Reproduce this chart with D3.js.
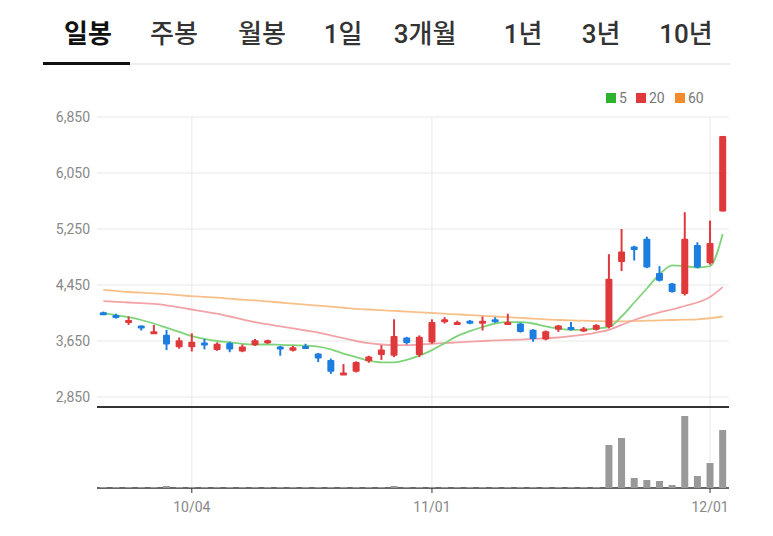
<!DOCTYPE html><html><head><meta charset="utf-8">
<script src="https://cdn.jsdelivr.net/npm/d3@7"></script>
<style>body{margin:0;background:#fff;font-family:Roboto,"Noto Sans CJK KR",sans-serif}</style></head><body>
<svg id="c" width="773" height="536"></svg>
<script>
const tabs=["일봉","주봉","월봉","1일","3개월","1년","3년","10년"];
const tabX=[88,174,262,343,425,523,601,686];
const open=[4060,4020,3920,3870,3760,3740,3560,3560,3630,3520,3620,3500,3590,3640,3570,3510,3580,3470,3380,3170,3210,3360,3450,3440,3700,3450,3630,3920,3900,3940,3910,3960,3890,3900,3810,3670,3810,3850,3810,3810,3850,4780,5000,5110,4620,4470,4320,5020,4760,5500];
const close=[4030,3980,3950,3840,3790,3600,3660,3640,3590,3610,3530,3570,3660,3660,3530,3560,3570,3400,3210,3200,3350,3430,3530,3720,3620,3710,3920,3960,3920,3930,3940,3920,3920,3780,3680,3790,3870,3810,3830,3880,4540,4930,4950,4700,4510,4350,5110,4700,5050,6580];
const high=[4070,4040,4000,3870,3880,3810,3700,3760,3680,3630,3640,3600,3680,3670,3580,3580,3610,3480,3400,3320,3360,3440,3590,3960,3710,3730,3960,3990,3940,3950,4000,3990,4040,3910,3820,3800,3880,3920,3850,3890,4890,5250,5010,5140,4720,4480,5490,5060,5370,6580];
const low=[4020,3970,3880,3800,3760,3520,3540,3500,3530,3510,3490,3490,3580,3610,3440,3500,3560,3350,3180,3170,3200,3340,3380,3420,3600,3420,3610,3900,3890,3890,3800,3910,3880,3770,3640,3660,3780,3800,3780,3800,3830,4650,4800,4690,4500,4340,4300,4690,4740,5500];
const ma5=[4050,4020,3990,3950,3900,3840,3780,3720,3680,3650,3630,3610,3600,3600,3595,3590,3585,3570,3530,3470,3420,3370,3345,3345,3380,3440,3520,3620,3720,3790,3850,3900,3920,3920,3900,3860,3830,3810,3810,3830,3850,4000,4200,4400,4600,4730,4720,4700,4720,5180];
const ma20=[4220,4210,4200,4190,4180,4160,4130,4100,4070,4040,4000,3960,3920,3890,3860,3830,3800,3770,3730,3690,3650,3620,3600,3590,3590,3600,3610,3620,3630,3640,3650,3660,3665,3670,3680,3690,3700,3720,3740,3770,3810,3880,3950,4010,4060,4100,4150,4200,4280,4420];
const ma60=[4380,4365,4350,4340,4330,4320,4305,4290,4280,4270,4255,4240,4230,4215,4200,4185,4170,4155,4140,4125,4110,4100,4090,4080,4070,4060,4050,4040,4030,4020,4010,4000,3990,3980,3970,3960,3950,3945,3940,3935,3930,3930,3935,3940,3945,3950,3955,3960,3975,4000];
const volume=[1,1,1,1,1,2,1,1,1,1,1,1,1,1,1,1,1,1,1,1,1,1,1,2,1,1,1,1,1,1,1,1,1,1,1,1,1,1,1,1,43,50,10,8,7,3,72,12,25,58];
const yTicks=[2850,3650,4450,5250,6050,6850];
const dateTicks=[[7,"10/04"],[26,"11/01"],[48,"12/01"]];

const svg=d3.select("#c");
const red="#e0393c",blue="#1e7ee0";
svg.selectAll(".tab").data(tabs).join("text").attr("x",(d,i)=>tabX[i]).attr("y",43)
 .attr("text-anchor","middle").attr("font-size",26).attr("font-weight",(d,i)=>i==0?700:500)
 .attr("fill",(d,i)=>i==0?"#111":"#333").text(d=>d);
svg.append("line").attr("x1",43).attr("x2",730).attr("y1",64).attr("y2",64).attr("stroke","#ddd");
svg.append("rect").attr("x",43).attr("y",62).attr("width",87).attr("height",3).attr("fill","#111");

const x=d3.scaleLinear().domain([-0.5,49.5]).range([97,729]);
const y=d3.scaleLinear().domain([2850,6850]).range([397,117]);
const yv=d3.scaleLinear().domain([0,100]).range([488,388]);
svg.selectAll(".g").data(yTicks).join("line").attr("x1",97).attr("x2",729).attr("y1",d=>y(d)).attr("y2",d=>y(d)).attr("stroke","#e8e8e8");
svg.selectAll(".v").data(dateTicks).join("line").attr("x1",d=>x(d[0])).attr("x2",d=>x(d[0])).attr("y1",117).attr("y2",488).attr("stroke","#e8e8e8");
svg.selectAll(".yl").data(yTicks).join("text").attr("x",90).attr("y",d=>y(d)+5).attr("text-anchor","end")
 .attr("font-size",14).attr("fill","#888").text(d3.format(","));
svg.append("line").attr("x1",97).attr("x2",729).attr("y1",407).attr("y2",407).attr("stroke","#333").attr("stroke-width",2);
svg.append("line").attr("x1",97).attr("x2",729).attr("y1",488).attr("y2",488).attr("stroke","#333").attr("stroke-width",1.5);
svg.selectAll(".xl").data(dateTicks).join("text").attr("x",d=>x(d[0])).attr("y",512).attr("text-anchor","middle")
 .attr("font-size",14).attr("fill","#888").text(d=>d[1]);
svg.selectAll(".tk").data(dateTicks).join("line").attr("x1",d=>x(d[0])).attr("x2",d=>x(d[0])).attr("y1",488).attr("y2",493).attr("stroke","#333");
const leg=[["5","#2cb52c"],["20",red],["60","#f08c2c"]];let lx=606;
leg.forEach(([t,c])=>{svg.append("rect").attr("x",lx).attr("y",93).attr("width",10).attr("height",10).attr("fill",c);
 svg.append("text").attr("x",lx+13).attr("y",103).attr("font-size",14).attr("fill","#777").text(t);lx+=13+t.length*9+8;});
const line=a=>d3.line().x((d,i)=>x(i)).y(d=>y(d)).curve(d3.curveMonotoneX)(a);
svg.append("path").attr("d",line(ma60)).attr("fill","none").attr("stroke","#f7c08a").attr("stroke-width",1.8);
svg.append("path").attr("d",line(ma20)).attr("fill","none").attr("stroke","#f2a3a6").attr("stroke-width",1.8);
svg.append("path").attr("d",line(ma5)).attr("fill","none").attr("stroke","#7fd47a").attr("stroke-width",1.8);
const idx=d3.range(open.length);
const col=i=>close[i]>=open[i]?red:blue;
svg.selectAll(".w").data(idx).join("line").attr("x1",i=>x(i)).attr("x2",i=>x(i)).attr("y1",i=>y(high[i])).attr("y2",i=>y(low[i])).attr("stroke",col).attr("stroke-width",2);
svg.selectAll(".b").data(idx).join("rect").attr("x",i=>x(i)-3.5).attr("width",7)
 .attr("y",i=>y(Math.max(open[i],close[i]))).attr("height",i=>Math.max(3,Math.abs(y(open[i])-y(close[i])))).attr("rx",1).attr("fill",col);
svg.selectAll(".vb").data(idx).join("rect").attr("x",i=>x(i)-3.5).attr("width",7).attr("y",i=>yv(volume[i])).attr("height",i=>488-yv(volume[i])).attr("fill","#999");
</script></body></html>
